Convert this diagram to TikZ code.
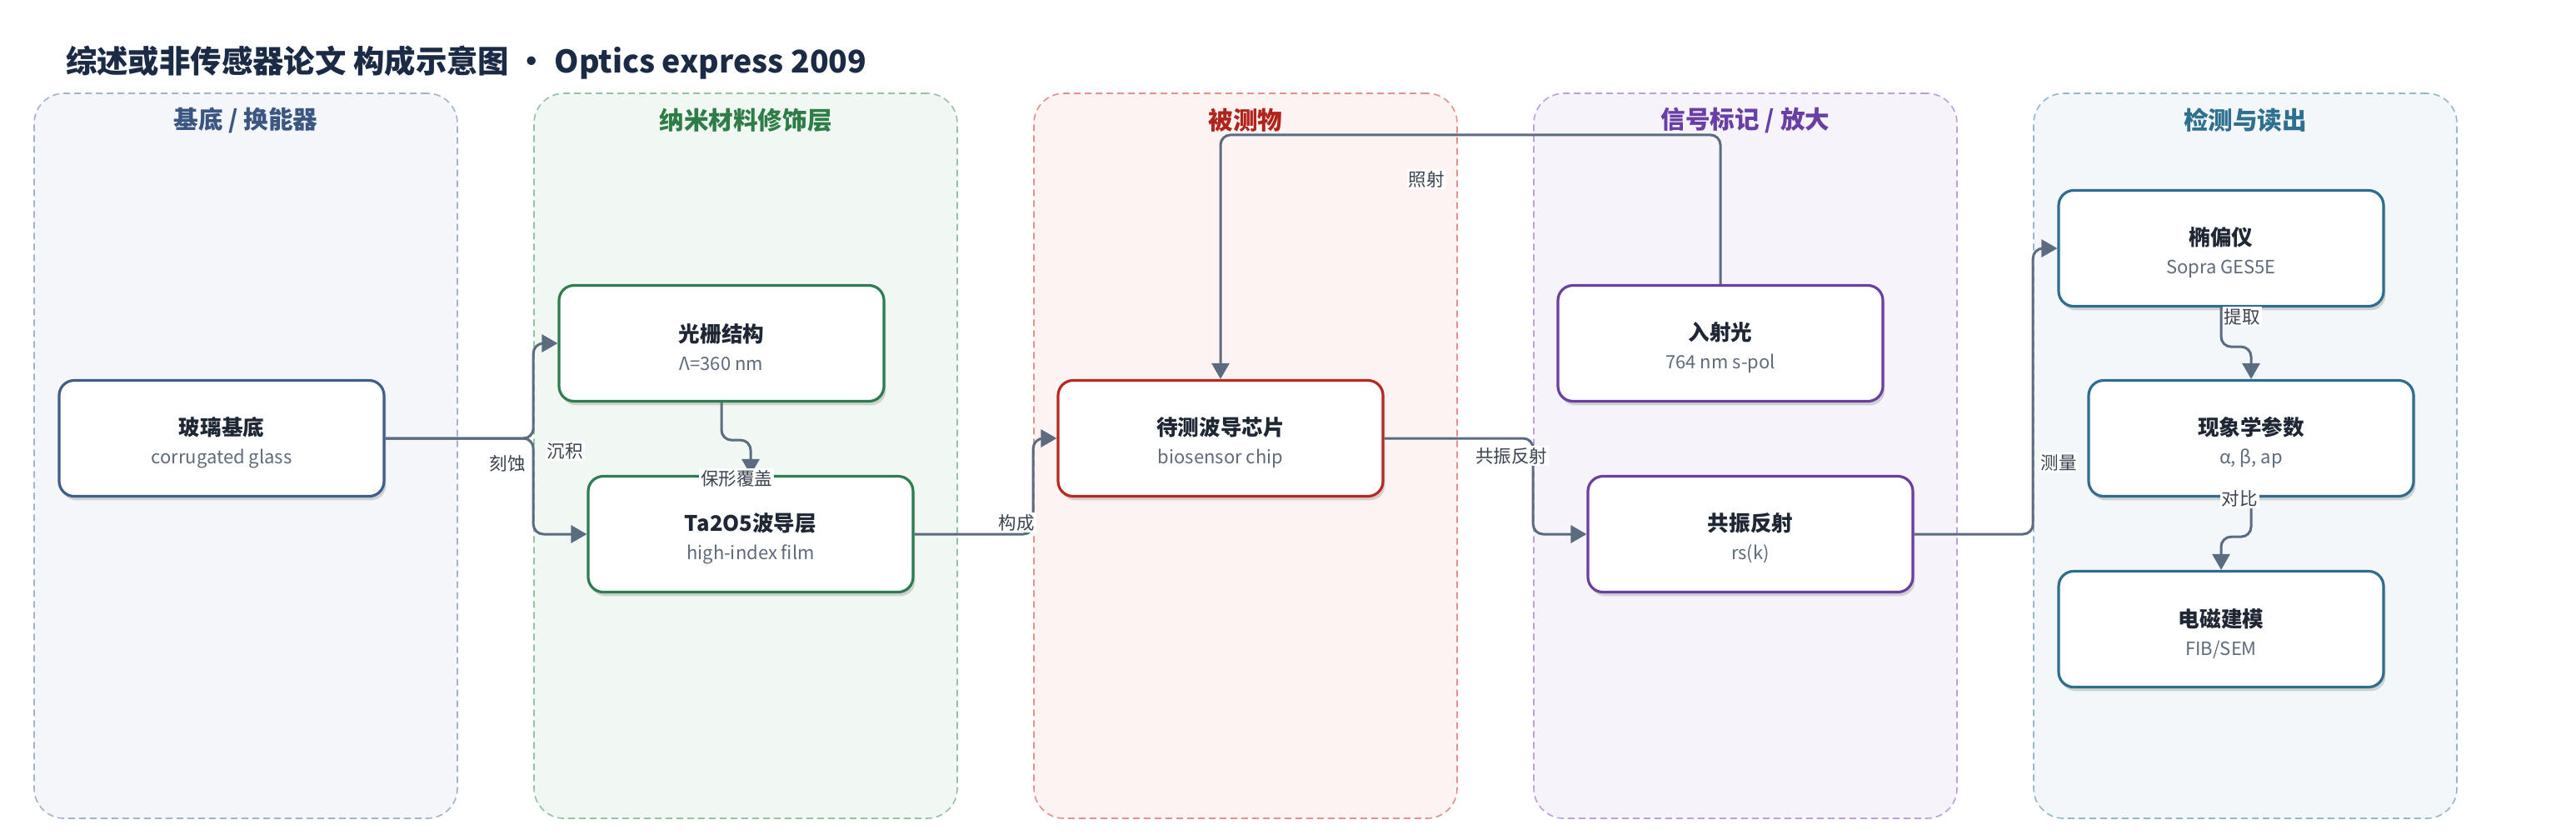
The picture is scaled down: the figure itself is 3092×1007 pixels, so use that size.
\documentclass[tikz,border=0pt]{standalone}
\usepackage{fontspec}
\setmainfont{Noto Sans CJK SC}
\usetikzlibrary{arrows.meta,shadows}
\definecolor{titlec}{HTML}{1B2B45}
\definecolor{edgec}{HTML}{5B6B80}
\definecolor{labc}{HTML}{3A4350}
\definecolor{ntitle}{HTML}{1E2733}
\definecolor{nsub}{HTML}{5F6B7A}
\definecolor{laneAfill}{HTML}{F4F6FA}\definecolor{laneAdraw}{HTML}{A3B3CA}\definecolor{laneAtext}{HTML}{3B5680}\definecolor{nodeA}{HTML}{3F5F8A}
\definecolor{laneBfill}{HTML}{F1F8F3}\definecolor{laneBdraw}{HTML}{93C3A2}\definecolor{laneBtext}{HTML}{2E7D46}\definecolor{nodeB}{HTML}{2E7D4F}
\definecolor{laneCfill}{HTML}{FDF3F2}\definecolor{laneCdraw}{HTML}{E2918B}\definecolor{laneCtext}{HTML}{B0241C}\definecolor{nodeC}{HTML}{B52A22}
\definecolor{laneDfill}{HTML}{F6F3FB}\definecolor{laneDdraw}{HTML}{BBA0DA}\definecolor{laneDtext}{HTML}{6A3FA5}\definecolor{nodeD}{HTML}{6A3FA0}
\definecolor{laneEfill}{HTML}{F3F7F9}\definecolor{laneEdraw}{HTML}{93B8CA}\definecolor{laneEtext}{HTML}{2F6F90}\definecolor{nodeE}{HTML}{2D6E8E}
\newcommand{\ntext}[2]{{\rule{0pt}{16pt}\fontsize{12.8pt}{17pt}\selectfont\bfseries\color{ntitle}#1}\\{\fontsize{11pt}{17pt}\selectfont\color{nsub}#2}}
\begin{document}
\begin{tikzpicture}[x=0.5pt,y=-0.5pt,
  lanebox/.style={draw=#1draw,fill=#1fill,dashed,dash pattern=on 4pt off 2.5pt,line width=0.8pt,rounded corners=18pt,minimum width=254pt,minimum height=435pt,inner sep=0pt},
  lanetitle/.style={text=#1text,font=\fontsize{14.8pt}{17pt}\selectfont\bfseries},
  box/.style={draw=#1,line width=1.6pt,fill=white,rounded corners=9pt,minimum width=195pt,minimum height=69.5pt,inner sep=0pt,align=center,font=\fontsize{12.8pt}{17pt}\selectfont,drop shadow={shadow xshift=1.2pt,shadow yshift=-2.4pt,opacity=0.15,fill=black}},
  edge/.style={draw=edgec,line width=1.5pt,rounded corners=6pt,-{Triangle[length=9.5pt,width=10.5pt]}},
  elab/.style={fill=white,inner sep=1pt,text=labc,font=\fontsize{10.75pt}{12pt}\selectfont}]
\useasboundingbox (0,0) rectangle (3092,1007);
\fill[white] (0,0) rectangle (3092,1007);
\node[anchor=west,text=titlec,font=\fontsize{18.7pt}{22pt}\selectfont\bfseries] (title) at (72,75) {综述或非传感器论文 构成示意图 • Optics express 2009};
% lanes
\node[lanebox=laneA] (lane1) at (295,547) {};
\node[lanebox=laneB] (lane2) at (895,547) {};
\node[lanebox=laneC] (lane3) at (1495,547) {};
\node[lanebox=laneD] (lane4) at (2095,547) {};
\node[lanebox=laneE] (lane5) at (2695,547) {};
\node[lanetitle=laneA] (t1) at (295,144) {基底 / 换能器};
\node[lanetitle=laneB] (t2) at (895,144) {纳米材料修饰层};
\node[lanetitle=laneC] (t3) at (1495,144) {被测物};
\node[lanetitle=laneD] (t4) at (2095,144) {信号标记 / 放大};
\node[lanetitle=laneE] (t5) at (2695,144) {检测与读出};
% nodes
\node[box=nodeA] (glass) at (266,526) {\ntext{玻璃基底}{corrugated glass}};
\node[box=nodeB] (grating) at (866,412) {\ntext{光栅结构}{Λ=360 nm}};
\node[box=nodeB] (film) at (901,641) {\ntext{Ta2O5波导层}{high-index film}};
\node[box=nodeC] (chip) at (1465,526) {\ntext{待测波导芯片}{biosensor chip}};
\node[box=nodeD] (light) at (2065,412) {\ntext{入射光}{764 nm s-pol}};
\node[box=nodeD] (reso) at (2101,641) {\ntext{共振反射}{rs(k)}};
\node[box=nodeE] (ellip) at (2666,298) {\ntext{椭偏仪}{Sopra GES5E}};
\node[box=nodeE] (pheno) at (2702,526) {\ntext{现象学参数}{α, β, ap}};
\node[box=nodeE] (em) at (2666,755) {\ntext{电磁建模}{FIB/SEM}};
% edges
\draw[edge] (glass.east) -- (glass.east -| lane2.west) |- (grating.west);
\draw[edge] (glass.east) -- (glass.east -| lane2.west) |- (film.west);
\draw[edge] (grating.south) -- ++(0,45) -| (film.north);
\draw[edge] (film.east) -- (film.east -| lane3.west) |- (chip.west);
\draw[edge] (light.north) -- ++(0,-179) -| (chip.north);
\draw[edge] (chip.east) -- (chip.east -| lane4.west) |- (reso.west);
\draw[edge] (reso.east) -- (reso.east -| lane5.west) |- (ellip.west);
\draw[edge] (ellip.south) -- ++(0,47) -| (pheno.north);
\draw[edge] (pheno.south) -- ++(0,47) -| (em.north);
% labels
\node[elab,fill=none] (l1) at (609,556) {刻蚀};
\node[elab] (l2) at (678,541) {沉积};
\node[elab] (l3) at (884,574) {保形覆盖};
\node[elab] (l4) at (1220,627) {构成};
\node[elab] (l5) at (1712,215) {照射};
\node[elab] (l6) at (1814,547) {共振反射};
\node[elab] (l7) at (2471,555) {测量};
\node[elab] (l8) at (2691,380) {提取};
\node[elab] (l9) at (2688,598) {对比};
\end{tikzpicture}
\end{document}
